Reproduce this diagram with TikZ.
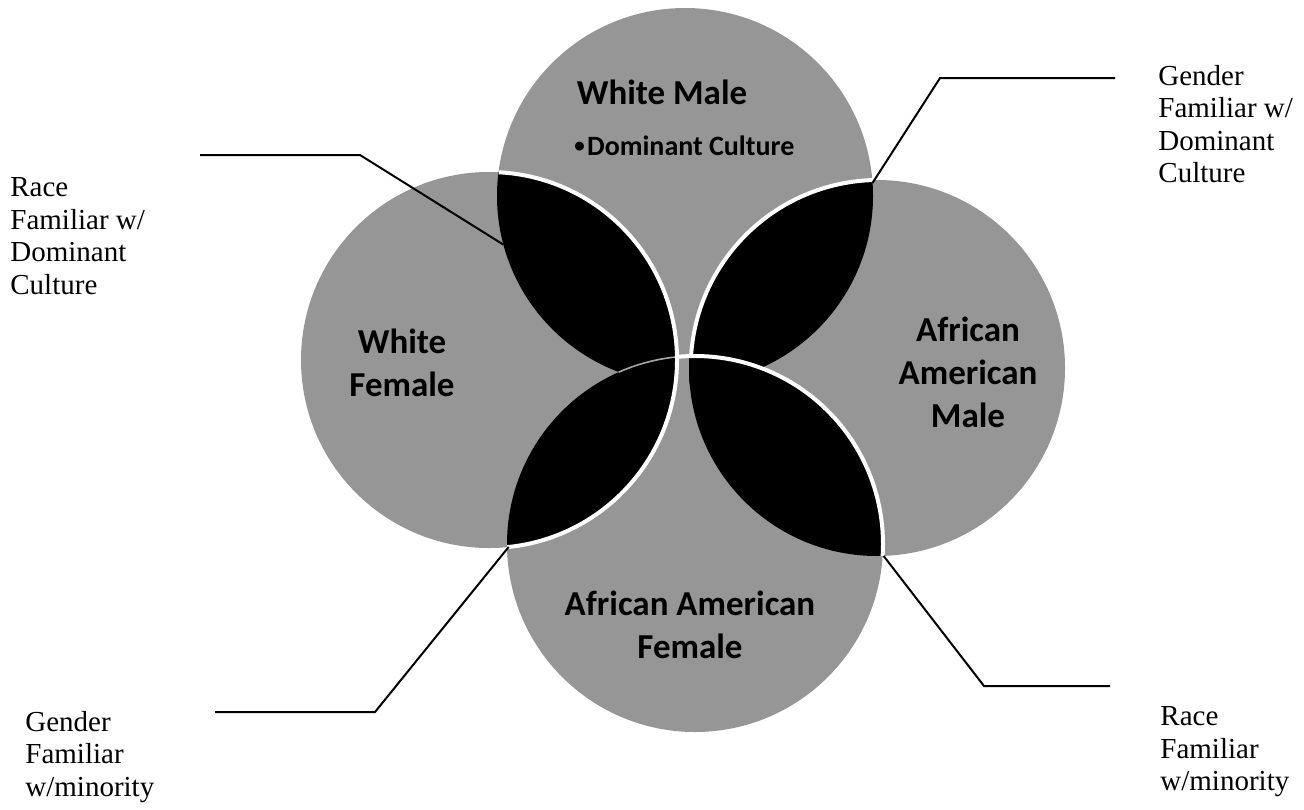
\documentclass[tikz,border=0pt]{standalone}
\usepackage{fontspec}
\usepackage{graphicx}
\setmainfont{Liberation Serif}
\newfontfamily\calib{Carlito}
\usetikzlibrary{calc}
\definecolor{circgray}{RGB}{150,150,150}
\begin{document}
\begin{tikzpicture}[x=0.5pt,y=-0.5pt,
  circ/.style={circle, fill=circgray, minimum size=188pt, inner sep=0pt, outer sep=0pt},
  lbl/.style={font=\fontsize{14.5pt}{16.25pt}\selectfont, align=left, inner sep=0pt},
  inlbl/.style={font=\calib\bfseries\fontsize{17.5pt}{21.5pt}\selectfont, align=center, inner sep=0pt},
  conn/.style={draw=black, line width=1pt},
  sep/.style={draw=white, line width=2pt}]
\useasboundingbox (0,0) rectangle (1304,809);
% circles
\node[circ] (T) at (685,196) {};
\node[circ] (L) at (489,360) {};
\node[circ] (R) at (877,368) {};
\node[circ] (B) at (695,544) {};
% black overlaps
\begin{scope}
  \clip (T.center) circle[radius=94pt];
  \fill[black] (L.center) circle[radius=94pt];
  \fill[black] (R.center) circle[radius=94pt];
\end{scope}
\begin{scope}
  \clip (B.center) circle[radius=94pt];
  \fill[black] (L.center) circle[radius=94pt];
  \fill[black] (R.center) circle[radius=94pt];
\end{scope}
\draw[gray!70, line width=0.8pt] (B.114) arc[start angle=114, end angle=95, radius=94pt];
% white separators
\draw[sep] (L.87) arc[start angle=87, end angle=-84.5, radius=94pt];
\draw[sep] (R.91.5) arc[start angle=91.5, end angle=176.3, radius=94pt];
\draw[sep] (B.95) arc[start angle=95, end angle=-3.7, radius=94pt];
% texts in circles
\node[inlbl, anchor=base] (wm) at (662,104) {White Male};
\node[font=\calib\bfseries\fontsize{14pt}{17pt}\selectfont, anchor=base west, inner sep=0pt] (dc) at (574,155) {\raisebox{0.1em}{\scalebox{0.75}{\textbullet}}\hspace{0.08em}Dominant Culture};
\node[inlbl] (wf) at (402,363) {White\\Female};
\node[inlbl] (aam) at (968,372) {African\\American\\Male};
\node[inlbl] (aaf) at (690,625) {African American\\Female};
% outside labels
\node[lbl, anchor=west] (rtl) at (10,236) {Race\\Familiar w/\\Dominant\\Culture};
\node[lbl, anchor=west] (gtr) at (1158,124) {Gender\\Familiar w/\\Dominant\\Culture};
\node[lbl, anchor=west] (gbl) at (25,757) {Gender\\Familiar\\w/minority};
\node[lbl, anchor=west] (rbr) at (1160,752) {Race\\Familiar\\w/minority};
% connectors
\coordinate (a1) at (200,155); \coordinate (a2) at (360,155);
\draw[conn] (a1) -- (a2) -- (T.195.6);
\coordinate (b1) at (1115,78); \coordinate (b2) at (940,78);
\draw[conn] (b1) -- (b2) -- (T.4.9);
\coordinate (c1) at (215,712); \coordinate (c2) at (375,712);
\draw[conn] (c1) -- (c2) -- (L.-84.5);
\coordinate (d1) at (1110,686); \coordinate (d2) at (984,686);
\draw[conn] (d1) -- (d2) -- (R.-88.2);
\end{tikzpicture}
\end{document}
